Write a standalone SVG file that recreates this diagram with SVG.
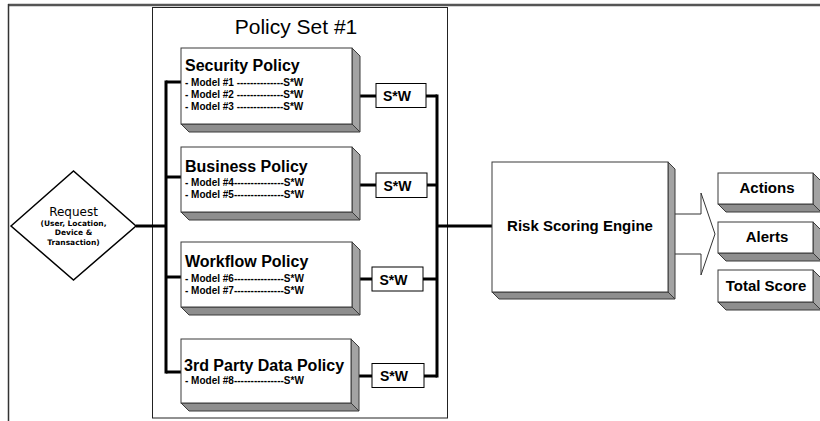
<svg xmlns="http://www.w3.org/2000/svg" width="820" height="421" viewBox="0 0 820 421">
<style>
.face{fill:#ffffff;stroke:#3a3a3a;stroke-width:1}
.side{fill:#a3a3a3;stroke:#3a3a3a;stroke-width:1;stroke-linejoin:round}
.bot{fill:#8e8e8e;stroke:#3a3a3a;stroke-width:1;stroke-linejoin:round}
.title{font-family:"Liberation Sans",Arial,sans-serif;font-weight:bold;font-size:16px;fill:#000}
.model{font-family:"Liberation Sans",Arial,sans-serif;font-weight:bold;font-size:10px;fill:#000}
.big{font-family:"Liberation Sans",Arial,sans-serif;font-weight:bold;font-size:15px;fill:#000;text-anchor:middle}
.sw{font-family:"Liberation Sans",Arial,sans-serif;font-weight:bold;font-size:14px;fill:#000;text-anchor:middle}
.swbox{fill:#fff;stroke:#000;stroke-width:1}
.wire{stroke:#000;stroke-width:3;fill:none}
.req{font-family:"DejaVu Sans",Verdana,sans-serif;fill:#000;text-anchor:middle}
</style>

<!-- outer frame -->
<line x1="8" y1="5" x2="820" y2="5" stroke="#555" stroke-width="2.5"/>
<line x1="8.5" y1="4" x2="8.5" y2="421" stroke="#333" stroke-width="1.5"/>

<!-- policy set panel -->
<g id="policy-set">
<rect x="152.5" y="7.5" width="295" height="410.5" fill="none" stroke="#222" stroke-width="1"/>
<text x="296" y="34" font-family="Liberation Sans, Arial, sans-serif" font-size="21" text-anchor="middle" fill="#000">Policy Set #1</text>
</g>

<!-- connectors -->
<g id="connectors">
<line class="wire" x1="166" y1="80.5" x2="166" y2="373.5"/>
<line class="wire" x1="166" y1="82" x2="181" y2="82"/>
<line class="wire" x1="166" y1="177" x2="181" y2="177"/>
<line class="wire" x1="166" y1="277" x2="181" y2="277"/>
<line class="wire" x1="166" y1="372" x2="181" y2="372"/>
<line class="wire" x1="136" y1="226" x2="166" y2="226"/>
<line class="wire" x1="359" y1="96" x2="376" y2="96"/>
<line class="wire" x1="426" y1="96" x2="437" y2="96"/>
<line class="wire" x1="359" y1="185" x2="376" y2="185"/>
<line class="wire" x1="427" y1="185" x2="437" y2="185"/>
<line class="wire" x1="359" y1="279" x2="372" y2="279"/>
<line class="wire" x1="423" y1="279" x2="437" y2="279"/>
<line class="wire" x1="358" y1="376" x2="372" y2="376"/>
<line class="wire" x1="424" y1="376" x2="437" y2="376"/>
<line class="wire" x1="437" y1="94.5" x2="437" y2="377.5"/>
<line class="wire" x1="437" y1="226" x2="492" y2="226"/>
<polygon points="668,214 701,214 701,193 715,234 701,275 701,254 668,254" fill="#fff" stroke="#333" stroke-width="1"/>
</g>

<!-- request -->
<g id="request">
<polygon points="11,226 73.5,171 136,226 73.5,280" fill="#fff" stroke="#000" stroke-width="1.5"/>
<text class="req" x="73.5" y="216" font-size="12">Request</text>
<text class="req" x="73.5" y="225.5" font-size="7.5" font-weight="bold">(User, Location,</text>
<text class="req" x="73.5" y="235" font-size="7.5" font-weight="bold">Device &amp;</text>
<text class="req" x="73.5" y="244.5" font-size="7.5" font-weight="bold">Transaction)</text>
</g>

<!-- security policy -->
<g id="security-policy">
<polygon class="side" points="352,48 360,56 360,132 352,124"/>
<polygon class="bot" points="181,124 352,124 360,132 189,132"/>
<rect class="face" x="181" y="48" width="171" height="76"/>
<text class="title" x="185" y="71">Security Policy</text>
<text class="model" x="185" y="86">- Model #1 --------------S*W</text>
<text class="model" x="185" y="98">- Model #2 --------------S*W</text>
<text class="model" x="185" y="110">- Model #3 --------------S*W</text>
</g>

<!-- business policy -->
<g id="business-policy">
<polygon class="side" points="352,147 360,155 360,220 352,212"/>
<polygon class="bot" points="181,212 352,212 360,220 189,220"/>
<rect class="face" x="181" y="147" width="171" height="65"/>
<text class="title" x="185" y="172">Business Policy</text>
<text class="model" x="185" y="186">- Model #4---------------S*W</text>
<text class="model" x="185" y="198">- Model #5---------------S*W</text>
</g>

<!-- workflow policy -->
<g id="workflow-policy">
<polygon class="side" points="352,242 360,250 360,315 352,307"/>
<polygon class="bot" points="181,307 352,307 360,315 189,315"/>
<rect class="face" x="181" y="242" width="171" height="65"/>
<text class="title" x="185" y="267">Workflow Policy</text>
<text class="model" x="185" y="282">- Model #6---------------S*W</text>
<text class="model" x="185" y="294">- Model #7---------------S*W</text>
</g>

<!-- 3rd party data policy -->
<g id="third-party-policy">
<polygon class="side" points="351,339 359,347 359,411 351,403"/>
<polygon class="bot" points="181,403 351,403 359,411 189,411"/>
<rect class="face" x="181" y="339" width="170" height="64"/>
<text class="title" x="184" y="371">3rd Party Data Policy</text>
<text class="model" x="185" y="384">- Model #8---------------S*W</text>
</g>

<!-- S*W boxes -->
<g id="sw-1"><rect class="swbox" x="376" y="83.5" width="50" height="24"/><text class="sw" x="397" y="101">S*W</text></g>
<g id="sw-2"><rect class="swbox" x="376" y="173" width="51" height="24.5"/><text class="sw" x="397.5" y="190.5">S*W</text></g>
<g id="sw-3"><rect class="swbox" x="372" y="267" width="51" height="24"/><text class="sw" x="393.5" y="284.5">S*W</text></g>
<g id="sw-4"><rect class="swbox" x="372" y="363.5" width="52" height="24"/><text class="sw" x="394" y="381">S*W</text></g>

<!-- risk scoring engine -->
<g id="risk-engine">
<polygon class="side" points="668,162 675,169 675,299 668,292"/>
<polygon class="bot" points="492,292 668,292 675,299 499,299"/>
<rect class="face" x="492" y="162" width="176" height="130"/>
<text class="big" x="580" y="231">Risk Scoring Engine</text>
</g>

<!-- outputs -->
<g id="actions">
<polygon class="side" points="813,173 821,181 821,212 813,204"/>
<polygon class="bot" points="718,204 813,204 821,212 726,212"/>
<rect class="face" x="718" y="173" width="95" height="31"/>
<text class="big" x="767" y="193">Actions</text>
</g>
<g id="alerts">
<polygon class="side" points="813,222 821,230 821,261 813,253"/>
<polygon class="bot" points="718,253 813,253 821,261 726,261"/>
<rect class="face" x="718" y="222" width="95" height="31"/>
<text class="big" x="767" y="242">Alerts</text>
</g>
<g id="total-score">
<polygon class="side" points="813,270 821,278 821,310 813,302"/>
<polygon class="bot" points="718,302 813,302 821,310 726,310"/>
<rect class="face" x="718" y="270" width="95" height="32"/>
<text class="big" x="766" y="291">Total Score</text>
</g>
</svg>
